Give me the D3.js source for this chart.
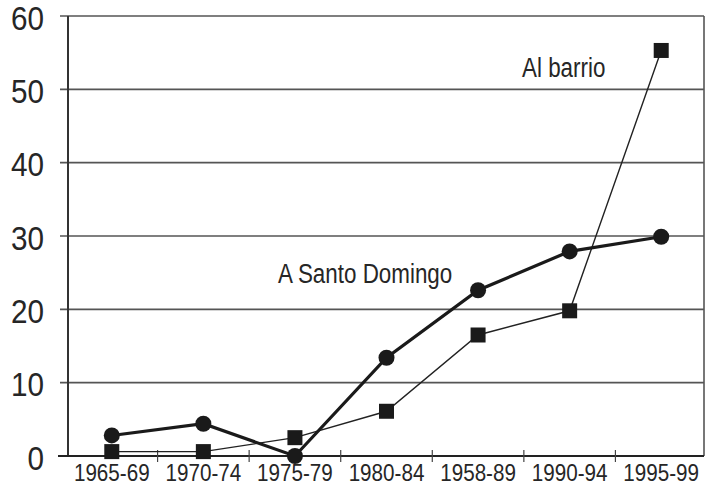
<!DOCTYPE html>
<html><head><meta charset="utf-8">
<script src="https://cdn.jsdelivr.net/npm/d3@7"></script>
<style>
html,body{margin:0;padding:0;background:#fff;}
text{font-family:"Liberation Sans Narrow","Arial Narrow","Liberation Sans",sans-serif;fill:#262626;}
</style></head>
<body><svg id="chart" width="708" height="485"></svg>
<script>
const categories = ["1965-69","1970-74","1975-79","1980-84","1958-89","1990-94","1995-99"];
const santoDomingo = [2.8, 4.4, 0, 13.4, 22.6, 27.9, 29.9];
const barrio = [0.6, 0.6, 2.5, 6.1, 16.5, 19.8, 55.3];
const yTicks = [0,10,20,30,40,50,60];
const labelSanto = "A Santo Domingo";
const labelBarrio = "Al barrio";

(function(){
const svg = d3.select("#chart");
const mLeft = 68, mRight = 704, mTop = 16, mBottom = 456;
const x = d3.scaleBand().domain(categories).range([66, 707]);
const y = d3.scaleLinear().domain([0,60]).range([mBottom, mTop]);
const cx = d => x(d) + x.bandwidth()/2;

// gridlines
svg.append("g").selectAll("line").data(yTicks.filter(v=>v>0)).join("line")
  .attr("x1", 60).attr("x2", mRight).attr("y1", d=>y(d)).attr("y2", d=>y(d))
  .attr("stroke", "#555").attr("stroke-width", 1.6);

// y labels (condensed via horizontal scale)
svg.append("g").selectAll("text").data(yTicks).join("text")
  .attr("transform", d=>`translate(44,${y(d)+2}) scale(0.9,1)`).attr("dy","0.35em")
  .attr("text-anchor","end").attr("font-size", 33).text(d=>d);

// axes lines
svg.append("line").attr("x1", mLeft).attr("x2", mLeft).attr("y1", mTop).attr("y2", mBottom)
  .attr("stroke", "#333").attr("stroke-width", 2);
svg.append("line").attr("x1", mRight).attr("x2", mRight).attr("y1", mTop).attr("y2", mBottom)
  .attr("stroke", "#555").attr("stroke-width", 1.6);
svg.append("line").attr("x1", 58).attr("x2", mRight).attr("y1", mBottom).attr("y2", mBottom)
  .attr("stroke", "#222").attr("stroke-width", 2);

// x ticks at band boundaries
svg.append("g").selectAll("line").data(categories.slice(1)).join("line")
  .attr("x1", d=>x(d)).attr("x2", d=>x(d)).attr("y1", mBottom-6).attr("y2", mBottom+6)
  .attr("stroke", "#444").attr("stroke-width", 1.2);

// x labels
svg.append("g").selectAll("text").data(categories).join("text")
  .attr("transform", d=>`translate(${cx(d)},481) scale(0.86,1)`).attr("text-anchor","middle")
  .attr("font-size", 24).text(d=>d);

const lineGen = arr => d3.line().x((d,i)=>cx(categories[i])).y(d=>y(d))(arr);
svg.append("path").attr("d", lineGen(barrio)).attr("fill","none")
  .attr("stroke","#222").attr("stroke-width",1.4);
svg.append("path").attr("d", lineGen(santoDomingo)).attr("fill","none")
  .attr("stroke","#1a1a1a").attr("stroke-width",3.2);

svg.append("g").selectAll("rect").data(barrio).join("rect")
  .attr("x",(d,i)=>cx(categories[i])-7.5).attr("y", d=>y(d)-7.5)
  .attr("width",15).attr("height",15).attr("fill","#1a1a1a");
svg.append("g").selectAll("circle").data(santoDomingo).join("circle")
  .attr("cx",(d,i)=>cx(categories[i])).attr("cy", d=>y(d)).attr("r",8)
  .attr("fill","#1a1a1a");

svg.append("text").attr("transform","translate(278,283) scale(0.8,1)").attr("font-size", 28).text(labelSanto);
svg.append("text").attr("transform","translate(522,77) scale(0.8,1)").attr("font-size", 28).text(labelBarrio);
})();
</script></body></html>
